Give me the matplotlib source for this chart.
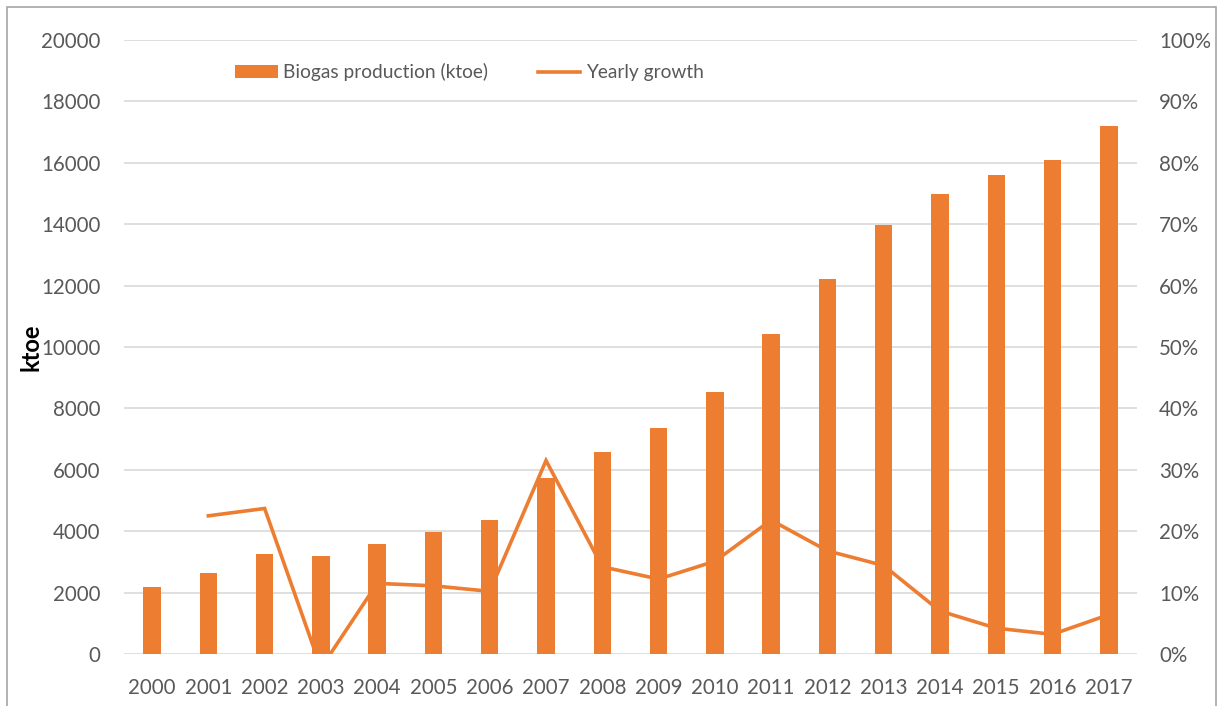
import numpy as np
import matplotlib.pyplot as plt
from matplotlib.patches import Rectangle
from matplotlib.ticker import PercentFormatter

plt.rcParams['font.family'] = ['Lato', 'DejaVu Sans']

#------------------------------------------------------------------------------
# Data
#------------------------------------------------------------------------------
years = ['2000', '2001', '2002', '2003', '2004', '2005', '2006', '2007', '2008',
         '2009', '2010', '2011', '2012', '2013', '2014', '2015', '2016', '2017']

biogas = [2170, 2650, 3270, 3200, 3570, 3970, 4370, 5740, 6580,
          7370, 8530, 10430, 12220, 13960, 14980, 15610, 16100, 17210]

# yearly growth (fraction), no value for first year
growth = [np.nan, 0.225, 0.237, -0.023, 0.115, 0.111, 0.102, 0.315, 0.142,
          0.122, 0.151, 0.218, 0.168, 0.144, 0.070, 0.042, 0.032, 0.064]

y_ticks = np.arange(0, 20001, 2000)
pct_ticks = np.arange(0, 1.01, 0.1)

#------------------------------------------------------------------------------
orange = '#ED7D31'
grey_txt = '#595959'
grid_col = '#D9D9D9'
fs = 14.8

fig = plt.figure(figsize=(12.2, 7.06), dpi=100)
ax = fig.add_axes([0.1016, 0.0737, 0.8303, 0.8696])
ax2 = ax.twinx()

x = np.arange(len(years))
bars = ax.bar(x, biogas, width=0.31, color=orange, zorder=2,
              label='Biogas production (ktoe)')
line, = ax2.plot(x, growth, color=orange, lw=2.6, zorder=3,
                 label='Yearly growth', solid_joinstyle='miter')

ax.set_xlim(-0.5, len(years) - 0.5)
ax.set_ylim(0, 20000)
ax2.set_ylim(0, 1)

ax.set_yticks(y_ticks)
ax.set_yticklabels([str(v) for v in y_ticks])
ax2.set_yticks(pct_ticks)
ax2.yaxis.set_major_formatter(PercentFormatter(1.0, decimals=0))
ax.set_xticks(x)
ax.set_xticklabels(years)

ax.grid(axis='y', color=grid_col, lw=1.2, zorder=0)
ax.set_axisbelow(True)

for a in (ax, ax2):
    for s in a.spines.values():
        s.set_visible(False)
    a.tick_params(length=0, colors=grey_txt, labelsize=fs)
ax.tick_params(axis='y', pad=17)
ax.tick_params(axis='x', pad=17)
ax2.tick_params(axis='y', pad=16)

ax.set_ylabel('ktoe', fontsize=17, fontweight='bold', color='black')
ax.yaxis.set_label_coords(-0.08, 0.5)

ax.legend([bars, line], ['Biogas production (ktoe)', 'Yearly growth'],
          ncol=2, frameon=False, loc='upper left',
          bbox_to_anchor=(0.093, 0.99), fontsize=13.8, labelcolor=grey_txt,
          handlelength=2.2, handletextpad=0.3, columnspacing=2.6)

# outer chart border
fig.patches.append(Rectangle((7 / 1220, -0.05), 1209 / 1220, 1.05 - 7 / 706,
                             transform=fig.transFigure, fill=False,
                             edgecolor='#A6A6A6', lw=1.2))

plt.savefig('out.png', dpi=100)
